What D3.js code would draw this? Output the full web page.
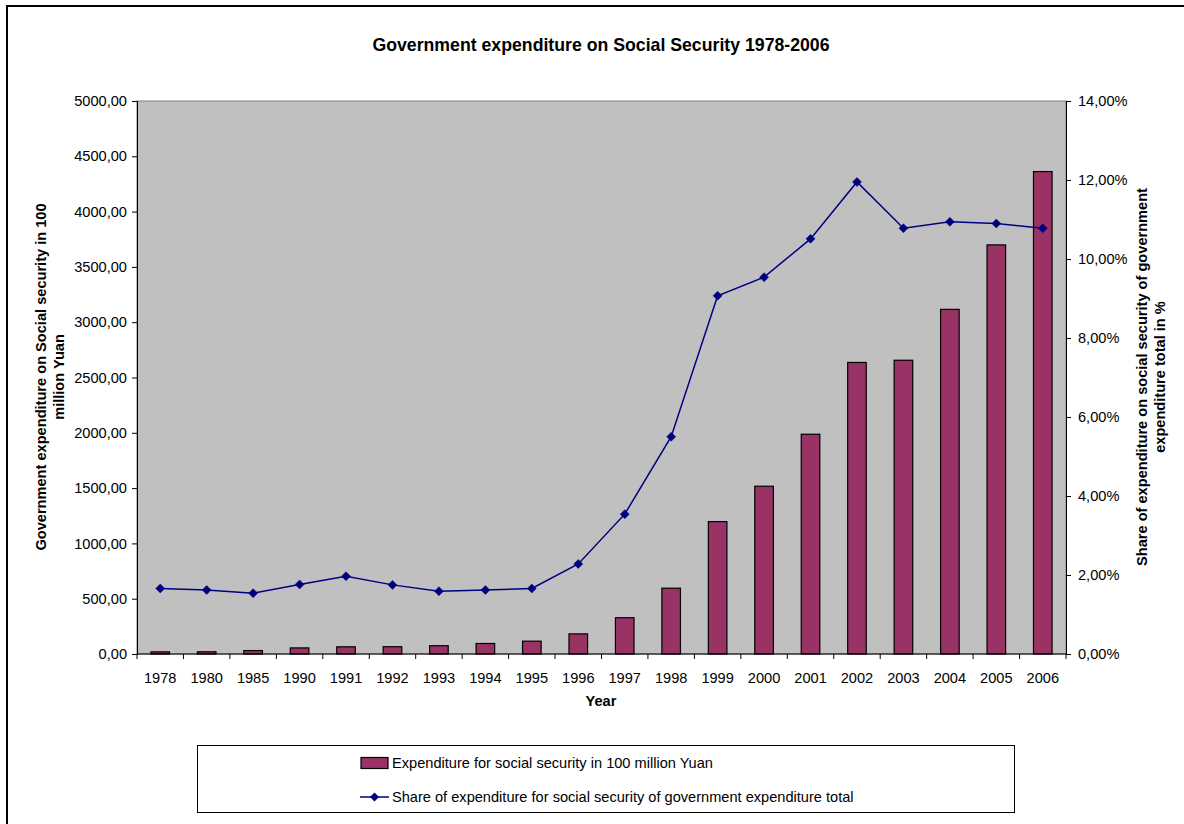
<!DOCTYPE html>
<html>
<head>
<meta charset="utf-8">
<script src="https://cdn.jsdelivr.net/npm/d3@7"></script>
<style>
  html, body { margin: 0; padding: 0; background: #fff; }
  svg { display: block; font-family: "Liberation Sans", Arial, sans-serif; }
</style>
</head>
<body>
<svg id="chart" width="1184" height="824"></svg>
<script>
const years = ["1978","1980","1985","1990","1991","1992","1993","1994","1995","1996","1997","1998","1999","2000","2001","2002","2003","2004","2005","2006"];
const expenditure = [19, 20, 31, 55, 65, 66, 75, 95, 116, 182, 328, 595, 1197, 1517, 1987, 2636, 2656, 3116, 3699, 4362];
const sharePct = [1.66, 1.62, 1.54, 1.76, 1.97, 1.75, 1.59, 1.62, 1.66, 2.28, 3.54, 5.50, 9.07, 9.54, 10.51, 11.95, 10.78, 10.94, 10.90, 10.78];
const leftTicks = [0, 500, 1000, 1500, 2000, 2500, 3000, 3500, 4000, 4500, 5000];
const rightTicks = [0, 2, 4, 6, 8, 10, 12, 14];
const titleText = "Government expenditure on Social Security 1978-2006";
const leftTitle = ["Government expenditure on Social security in 100", "million Yuan"];
const rightTitle = ["Share of expenditure on social security of government", "expenditure total in %"];
const xTitle = "Year";
const legendLabels = ["Expenditure for social security in 100 million Yuan", "Share of expenditure for social security of government expenditure total"];

const FS = 14.6;
const svg = d3.select("#chart");
const plot = {left: 137, right: 1066, top: 101, bottom: 654};

// outer chart border (extends beyond the frame)
svg.append("rect").attr("x", 7).attr("y", 6).attr("width", 1220).attr("height", 860)
  .attr("fill", "#fff").attr("stroke", "#000").attr("stroke-width", 2);

const x = d3.scaleBand().domain(years).range([plot.left, plot.right]).paddingInner(0).paddingOuter(0);
const yL = d3.scaleLinear().domain([0, 5000]).range([plot.bottom, plot.top]);
const yR = d3.scaleLinear().domain([0, 14]).range([plot.bottom, plot.top]);

// plot background
svg.append("rect").attr("x", plot.left).attr("y", plot.top)
  .attr("width", plot.right - plot.left).attr("height", plot.bottom - plot.top)
  .attr("fill", "#C0C0C0").attr("stroke", "#808080").attr("stroke-width", 1);

// bars
const barW = x.bandwidth() / 2.5;
svg.append("g").selectAll("rect").data(years).join("rect")
  .attr("x", d => x(d) + (x.bandwidth() - barW) / 2)
  .attr("y", (d, i) => yL(expenditure[i]))
  .attr("width", barW)
  .attr("height", (d, i) => plot.bottom - yL(expenditure[i]))
  .attr("fill", "#993366").attr("stroke", "#000").attr("stroke-width", 1.2);

const fmtL = v => d3.format(".2f")(v).replace(".", ",");
const fmtR = v => d3.format(".2f")(v).replace(".", ",") + "%";

// left axis
const gL = svg.append("g").attr("transform", `translate(${plot.left},0)`)
  .call(d3.axisLeft(yL).tickValues(leftTicks).tickFormat(fmtL).tickSize(5).tickPadding(5));
// right axis
const gR = svg.append("g").attr("transform", `translate(${plot.right},0)`)
  .call(d3.axisRight(yR).tickValues(rightTicks).tickFormat(fmtR).tickSize(5).tickPadding(7));
// x axis
const gX = svg.append("g").attr("transform", `translate(0,${plot.bottom})`)
  .call(d3.axisBottom(x).tickSize(0).tickPadding(19));
[gL, gR, gX].forEach(g => {
  g.select(".domain").attr("stroke", "#000").attr("stroke-width", 1);
  g.selectAll(".tick line").attr("stroke", "#000");
  g.selectAll("text").attr("font-size", FS).attr("fill", "#000")
    .attr("font-family", "'Liberation Sans', Arial, sans-serif");
});
gX.select(".domain").attr("d", `M${plot.left},0H${plot.right}`);
// category separator ticks on x axis
svg.append("g").selectAll("line").data(d3.range(years.length + 1)).join("line")
  .attr("x1", i => plot.left + i * x.step()).attr("x2", i => plot.left + i * x.step())
  .attr("y1", plot.bottom).attr("y2", plot.bottom + 5)
  .attr("stroke", "#000");

// line series
const lineGen = d3.line().x((d, i) => x(years[i]) + x.bandwidth() / 2).y(d => yR(d));
svg.append("path").datum(sharePct).attr("d", lineGen)
  .attr("fill", "none").attr("stroke", "#000080").attr("stroke-width", 1.5);
const diamond = (cx, cy, r) => `M${cx},${cy - r}L${cx + r},${cy}L${cx},${cy + r}L${cx - r},${cy}Z`;
svg.append("g").selectAll("path").data(sharePct).join("path")
  .attr("d", (d, i) => diamond(x(years[i]) + x.bandwidth() / 2, yR(d), 4.5))
  .attr("fill", "#000080").attr("stroke", "#000080").attr("stroke-width", 0.5);

// titles
svg.append("text").attr("x", 601).attr("y", 51).attr("text-anchor", "middle")
  .attr("font-size", 17.7).attr("font-weight", "bold").text(titleText);
svg.append("text").attr("x", 601).attr("y", 706).attr("text-anchor", "middle")
  .attr("font-size", FS).attr("font-weight", "bold").text(xTitle);

const lt = svg.append("text").attr("transform", "translate(46,377) rotate(-90)")
  .attr("text-anchor", "middle").attr("font-size", FS).attr("font-weight", "bold");
leftTitle.forEach((t, i) => lt.append("tspan").attr("x", 0).attr("y", i * 17.5).text(t));

const rt = svg.append("text").attr("transform", "translate(1147,377) rotate(-90)")
  .attr("text-anchor", "middle").attr("font-size", FS).attr("font-weight", "bold");
rightTitle.forEach((t, i) => rt.append("tspan").attr("x", 0).attr("y", i * 17.5).text(t));

// legend
const lg = svg.append("g");
lg.append("rect").attr("x", 197.5).attr("y", 745.5).attr("width", 817).attr("height", 67)
  .attr("fill", "#fff").attr("stroke", "#000").attr("stroke-width", 1);
lg.append("rect").attr("x", 361).attr("y", 757.5).attr("width", 27).attr("height", 11)
  .attr("fill", "#993366").attr("stroke", "#000").attr("stroke-width", 1.2);
lg.append("text").attr("x", 392).attr("y", 768).attr("font-size", FS).text(legendLabels[0]);
lg.append("line").attr("x1", 360).attr("x2", 389).attr("y1", 797).attr("y2", 797)
  .attr("stroke", "#000080").attr("stroke-width", 1.5);
lg.append("path").attr("d", diamond(374.5, 797, 4.5)).attr("fill", "#000080");
lg.append("text").attr("x", 392).attr("y", 802).attr("font-size", FS).text(legendLabels[1]);
</script>
</body>
</html>
